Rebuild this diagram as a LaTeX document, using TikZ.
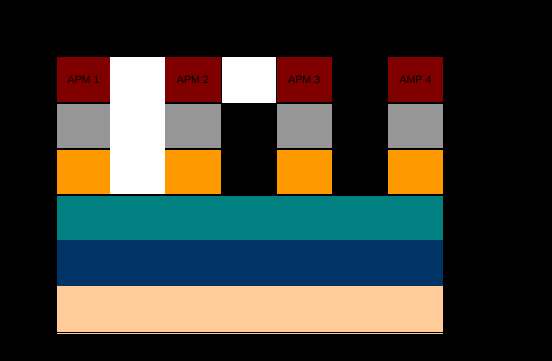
\documentclass[tikz,border=0pt]{standalone}
\usepackage{fontspec}
\setmainfont{Liberation Sans}
\definecolor{apmred}{HTML}{800000}
\definecolor{apmgray}{HTML}{969696}
\definecolor{apmorange}{HTML}{FF9900}
\definecolor{apmteal}{HTML}{008080}
\definecolor{apmnavy}{HTML}{003366}
\definecolor{apmpeach}{HTML}{FFCC99}
\begin{document}
\begin{tikzpicture}[x=1pt,y=-1pt,
  blk/.style={draw=none,inner sep=0pt,outer sep=0pt},
  lbl/.style={font=\fontsize{10.7}{12}\selectfont,text=black}]
\fill[black] (0,0) rectangle (552,361);
\useasboundingbox (0,0) rectangle (552,361);
% white columns
\fill[white] (110,56.7) rectangle (165,194);
\fill[white] (221.7,56.7) rectangle (276,103.3);
% stacks
\foreach \x/\w in {57.3/52.7,165/56,276.7/55,388/55}{
  \fill[apmred] (\x,57.3) rectangle ++(\w,44.4);
  \fill[apmgray] (\x,104) rectangle ++(\w,44);
  \fill[apmorange] (\x,150) rectangle ++(\w,44);
}
\node[lbl] (a1) at (83.5,79.5) {APM 1};
\node[lbl] (a2) at (193,79.5) {APM 2};
\node[lbl] (a3) at (304.2,79.5) {APM 3};
\node[lbl] (a4) at (415.5,79.5) {AMP 4};
% base layers
\fill[apmteal] (57,195.7) rectangle (443,240);
\fill[apmnavy] (57,240) rectangle (443,286);
\fill[apmpeach] (57,286) rectangle (443,331.7);
\fill[apmpeach] (57,332.7) rectangle (443,333.7);
\end{tikzpicture}
\end{document}
